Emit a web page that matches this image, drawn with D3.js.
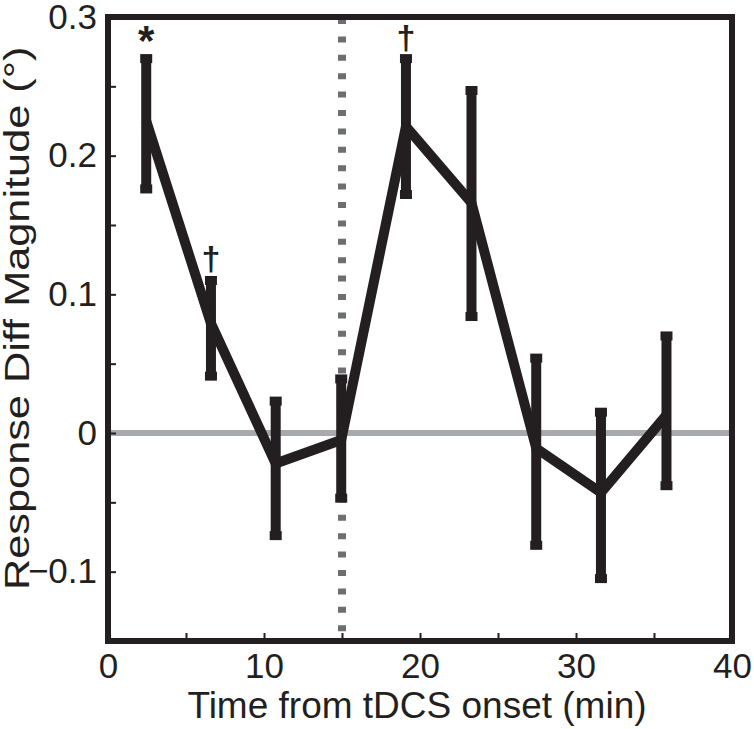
<!DOCTYPE html>
<html>
<head>
<meta charset="utf-8">
<script src="https://cdn.jsdelivr.net/npm/d3@7"></script>
<style>
  html, body { margin: 0; padding: 0; background: #fff; }
  svg { display: block; }
  text { font-family: "Liberation Sans", Arial, Helvetica, sans-serif; fill: #231f20; }
</style>
</head>
<body>
<svg id="chart" width="754" height="729"></svg>
<script>
// ---- Data ----
const times = [2.45, 6.6, 10.75, 14.95, 19.1, 23.3, 27.45, 31.6, 35.8];
const means = [0.225, 0.079, -0.022, -0.005, 0.221, 0.166, -0.011, -0.043, 0.013];
const upper = [0.270, 0.110, 0.023, 0.039, 0.270, 0.247, 0.054, 0.015, 0.070];
const lower = [0.176, 0.041, -0.074, -0.047, 0.172, 0.084, -0.081, -0.105, -0.038];
const markerTimes = [2.45, 6.6, 19.1];
const markerLabels = ["*", "\u2020", "\u2020"];
const markerValues = [0.270, 0.110, 0.270];
const stimTime = [15];
const xTicks = [0, 5, 10, 15, 20, 25, 30, 35, 40];
const yTicks = [-0.15, -0.1, -0.05, 0, 0.05, 0.1, 0.15, 0.2, 0.25, 0.3];
const xDomain = [0, 40];
const yDomain = [-0.15, 0.3];
const xTitle = "Time from tDCS onset (min)";
const yTitle = "Response Diff Magnitude (\u00b0)";

// ---- Layout ----
const L = 108, R = 732, T = 17, B = 641;
const dark = "#231f20";
const svg = d3.select("#chart");
const x = d3.scaleLinear().domain(xDomain).range([L, R]);
const y = d3.scaleLinear().domain(yDomain).range([B, T]);

const isMajor = v => Math.abs(v * 10 - Math.round(v * 10)) < 1e-6;
const fmtY = v => !isMajor(v) ? "" : (Math.abs(v) < 1e-9 ? "0" : d3.format(".1f")(v));
const fmtX = v => (v % 10 === 0 ? String(v) : "");

// zero line
svg.append("line")
  .attr("x1", x(xDomain[0])).attr("x2", x(xDomain[1]))
  .attr("y1", y(0)).attr("y2", y(0))
  .attr("stroke", "#a7a9ac").attr("stroke-width", 6);

// stimulation dotted line
svg.selectAll("line.stim").data(stimTime).enter().append("line")
  .attr("class", "stim")
  .attr("x1", d => x(d)).attr("x2", d => x(d))
  .attr("y1", y(yDomain[1]) + 1).attr("y2", y(yDomain[0]))
  .attr("stroke", "#6d6e71").attr("stroke-width", 8)
  .attr("stroke-dasharray", "6,12.4");

// axes
const yAxis = d3.axisLeft(y).tickValues(yTicks).tickFormat(fmtY)
  .tickSizeInner(-8).tickSizeOuter(0).tickPadding(11);
const gy = svg.append("g").attr("transform", `translate(${L},0)`).call(yAxis);
const xAxis = d3.axisBottom(x).tickValues(xTicks).tickFormat(fmtX)
  .tickSizeInner(-8).tickSizeOuter(0).tickPadding(12);
const gx = svg.append("g").attr("transform", `translate(0,${B})`).call(xAxis);
[gx, gy].forEach(g => {
  g.select(".domain").remove();
  g.selectAll(".tick line").attr("stroke", dark).attr("stroke-width", 2);
  g.selectAll(".tick text").attr("font-size", 35).attr("fill", dark)
    .style("font-family", "'Liberation Sans', Arial, sans-serif");
});

// error bars
const idx = d3.range(times.length);
svg.selectAll("line.err").data(idx).enter().append("line")
  .attr("class", "err")
  .attr("x1", i => x(times[i])).attr("x2", i => x(times[i]))
  .attr("y1", i => y(upper[i])).attr("y2", i => y(lower[i]))
  .attr("stroke", dark).attr("stroke-width", 10);
const caps = idx.flatMap(i => [{t: times[i], v: upper[i]}, {t: times[i], v: lower[i]}]);
svg.selectAll("rect.cap").data(caps).enter().append("rect")
  .attr("class", "cap")
  .attr("x", d => x(d.t) - 6).attr("width", 12)
  .attr("y", d => y(d.v) - 4.5).attr("height", 9)
  .attr("fill", dark);

// mean line
const line = d3.line().x(i => x(times[i])).y(i => y(means[i]));
svg.append("path").datum(idx)
  .attr("d", line)
  .attr("fill", "none").attr("stroke", dark).attr("stroke-width", 10)
  .attr("stroke-linejoin", "miter").attr("stroke-miterlimit", 10);

// significance markers
svg.selectAll("text.mark").data(d3.range(markerTimes.length)).enter().append("text")
  .attr("class", "mark")
  .attr("x", i => x(markerTimes[i]))
  .attr("y", i => y(markerValues[i]) - (markerLabels[i] === "*" ? 4 : 10))
  .attr("text-anchor", "middle")
  .attr("font-size", i => markerLabels[i] === "*" ? 42 : 34)
  .attr("font-weight", "bold")
  .text(i => markerLabels[i]);

// frame
svg.append("rect")
  .attr("x", L).attr("y", T).attr("width", R - L).attr("height", B - T)
  .attr("fill", "none").attr("stroke", dark).attr("stroke-width", 6);

// titles
svg.append("text")
  .attr("x", 417).attr("y", 718)
  .attr("text-anchor", "middle").attr("font-size", 37)
  .text(xTitle);
svg.append("text")
  .attr("transform", "translate(29,590) rotate(-90) scale(1.22,1)")
  .attr("text-anchor", "start").attr("font-size", 35.5)
  .text(yTitle);
</script>
</body>
</html>
